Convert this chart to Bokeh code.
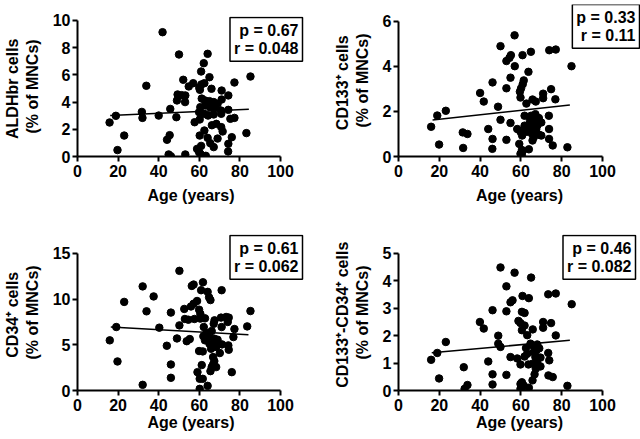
from bokeh.plotting import figure
from bokeh.layouts import column, row
from bokeh.models import Label, FixedTicker
from bokeh.embed import file_html
from bokeh.resources import INLINE

# ---------------- data ----------------
age_aldh = [41.9, 50, 64.1, 62.2, 60.9, 65, 85.2, 77.3, 33.9, 52.1, 54.8, 57, 60, 61, 62.5, 66, 71, 74.3,
            49.3, 51.3, 53.1, 49, 53, 61.2, 62.8, 65, 67.1, 69, 71, 60.5, 63, 65.3, 67.8, 70.7, 74.3,
            59.9, 62.2, 64.3, 67.1, 70.8, 31.7, 32, 40, 45.7, 48.7, 18.9, 15.8, 57.7, 60.2, 75.3, 77.3,
            66.2, 68.4, 70.8, 71.5, 62.5, 60.2, 64.1, 69, 76, 83.2, 23, 44.1, 45.4, 65.4, 60.9, 67.1,
            74.3, 74.2, 19.7, 58.9, 59.9, 44.9, 46, 53.1, 60.5, 63.2, 60.3]
val_aldh = [9.14, 7.5, 7.55, 6.86, 6.25, 5.83, 5.88, 5.44, 5.2, 5.64, 5.15, 5.39, 5.05, 5.3, 5.39, 4.98, 4.85, 4.49,
            4.56, 4.51, 4.49, 4.12, 4.0, 4.26, 4.12, 4.07, 4.0, 3.87, 4.19, 3.63, 3.75, 3.63, 3.58, 3.38, 3.43,
            3.26, 3.14, 3.01, 3.09, 3.14, 3.28, 2.84, 3.01, 3.5, 2.89, 2.99, 2.5, 2.52, 2.72, 2.77, 2.84,
            2.3, 2.4, 2.16, 1.84, 1.91, 1.54, 1.37, 1.32, 1.42, 1.72, 1.54, 1.23, 1.57, 0.98, 0.78, 0.69,
            0.93, 0.37, 0.47, 0.56, 0.32, 0.15, 0.02, 0.15, 0.2, 0.05, 4.9]
fit_aldh_x = [16.1, 84.4]
fit_aldh_y = [3.01, 3.48]

age_cd133 = [56.9, 50, 55.1, 60.8, 64.9, 73.9, 77.1, 52.9, 54.4, 57, 84.8, 63.7, 54.9, 61.4, 46.1, 60.9, 60.1,
             52.9, 59.5, 40, 70.9, 74.8, 70.9, 59.8, 65.7, 67.3, 76.9, 41.8, 62.7, 48.8, 23.2, 19, 61.8, 65,
             67.1, 68.8, 73.7, 50, 54.9, 61.8, 63.9, 66.3, 68, 70, 65, 67.1, 73.8, 58.2, 59.8, 44, 31.5, 33.8,
             16, 60.6, 68.8, 66.3, 70, 65.7, 73.8, 52.9, 46.1, 75.6, 59.2, 19.9, 31.7, 46, 63.9, 60.5, 82.8,
             59.8, 60.5, 60.8, 64.5, 66.5, 68.5, 63, 65.5, 67.5]
val_cd133 = [5.38, 4.9, 4.5, 4.5, 4.65, 4.72, 4.75, 4.24, 4.38, 4.01, 4.01, 3.76, 3.5, 3.38, 3.29, 3.21, 3.03,
             3.03, 2.88, 2.82, 2.79, 2.99, 2.59, 2.62, 2.53, 2.44, 2.54, 2.44, 2.35, 2.21, 2.03, 1.82, 1.81, 1.81,
             1.88, 1.71, 1.81, 1.63, 1.49, 1.37, 1.41, 1.44, 1.37, 1.51, 1.22, 1.18, 1.22, 1.22, 1.1, 1.22, 1.07, 1.0,
             1.32, 0.93, 0.97, 0.85, 0.93, 0.71, 0.78, 0.74, 0.78, 0.49, 0.56, 0.53, 0.38, 0.34, 0.32, 0.29, 0.41,
             0.12, 0.04, 0.24, 1.6, 1.65, 1.55, 1.1, 1.0, 1.2]
fit_cd133_x = [16.7, 84.0]
fit_cd133_y = [1.62, 2.29]

age_cd34 = [50.2, 32.1, 56.3, 57.2, 61.8, 60.9, 64.1, 71, 37.5, 64.8, 65.5, 23, 58.9, 57.2, 55.9, 59.9, 52.6,
            34, 46, 85.2, 60.5, 52.9, 54.6, 57.6, 60.5, 62.8, 67.5, 70.7, 73.2, 74.5, 74, 83.6, 40.3, 19.1,
            50.2, 62.2, 67.1, 71, 77.3, 66.1, 49, 53.8, 55.3, 15.9, 62, 64.5, 62.8, 67.4, 69, 76.8, 65, 67.4,
            71.2, 74.3, 44, 68.3, 74.5, 59.9, 61.7, 65.8, 70.1, 66.8, 67.4, 66.8, 66.1, 68.3, 46, 61.2, 19.7,
            65.5, 76, 59.1, 46, 60.2, 61.7, 32.1, 64.1, 60.2, 63.5]
val_cd34 = [13.1, 11.4, 11.45, 11.6, 11.85, 10.98, 10.8, 10.98, 10.3, 10.2, 9.9, 9.7, 9.8, 9.5, 9.2, 8.85, 8.93,
            8.67, 8.53, 8.7, 8.4, 7.83, 7.75, 7.83, 7.87, 7.9, 7.68, 7.98, 8.05, 7.98, 7.5, 7.02, 6.88, 6.95,
            7.13, 6.95, 7.3, 6.95, 6.73, 6.51, 5.7, 5.4, 5.63, 5.49, 5.93, 5.85, 5.49, 5.67, 5.56, 5.85, 5.12, 5.05,
            5.05, 4.94, 4.9, 4.76, 4.46, 4.32, 4.28, 4.57, 4.1, 3.66, 3.22, 2.85, 2.56, 2.56, 2.85, 2.78, 3.18,
            2.12, 2.01, 2.01, 1.39, 1.28, 1.28, 0.62, 0.51, 0.18, 6.3]
fit_cd34_x = [16.4, 84.2]
fit_cd34_y = [6.95, 6.11]

age_dbl = [50, 56.9, 65, 52.9, 60.8, 63.9, 55.9, 54.9, 73.4, 77.1, 84.9, 46.1, 52.9, 60.5, 61.8, 58.8, 59.8,
           61.8, 70.9, 70.9, 74.8, 39.9, 41.8, 65.8, 60.5, 63.1, 48.9, 77.1, 23.2, 48.9, 50, 19, 16, 64.7, 66.3,
           68, 69, 66.3, 63.1, 73.4, 54.9, 58.2, 61.8, 67.1, 69.6, 44, 73.9, 59.8, 63.7, 65.8, 68, 69.6, 67.3,
           32, 52.9, 46.1, 66.7, 73.5, 75.6, 19.9, 65.7, 60.5, 59.8, 46.1, 33.8, 32.4, 60.5, 61.4, 63.9, 82.8,
           59.8, 62.5, 67.5]
val_dbl = [4.49, 4.3, 4.12, 3.8, 3.45, 3.37, 3.29, 3.22, 3.51, 3.54, 3.15, 2.93, 2.89, 2.87, 2.83, 2.54, 2.46,
           2.37, 2.5, 2.29, 2.46, 2.5, 2.26, 2.23, 2.2, 2.02, 2.0, 2.01, 1.77, 1.71, 1.59, 1.37, 1.12, 1.71, 1.61,
           1.68, 1.54, 1.4, 1.34, 1.37, 1.22, 1.17, 1.24, 1.22, 1.2, 1.06, 1.1, 0.95, 0.95, 0.98, 1.0, 0.88, 0.79,
           0.85, 0.57, 0.59, 0.59, 0.55, 0.49, 0.44, 0.37, 0.3, 0.24, 0.22, 0.2, 0.06, 0.12, 0.18, 0.1, 0.17,
           0.06, 1.55, 1.45]
fit_dbl_x = [16.3, 84.0]
fit_dbl_y = [1.38, 1.83]

x_ticks = [0, 20, 40, 60, 80, 100]
FONT = "Liberation Sans"


def panel(ages, vals, fx, fy, ymax, yticks, ylabel, stats,
          width, height, left, right, top, bottom, xmax_ext, ymax_ext, xstd, box_x, box_y,
          margin=None):
    p = figure(width=width, height=height, x_range=(0, xmax_ext), y_range=(0, ymax_ext),
               output_backend="svg", toolbar_location=None, title=None,
               min_border_left=left, min_border_right=right,
               min_border_top=top, min_border_bottom=bottom)
    if margin is not None:
        p.margin = margin
    p.outline_line_color = None
    p.grid.visible = False
    p.xaxis.ticker = FixedTicker(ticks=x_ticks)
    p.yaxis.ticker = FixedTicker(ticks=yticks)
    p.xaxis.bounds = (0, 100)
    p.yaxis.bounds = (0, ymax)
    for ax in (p.xaxis[0], p.yaxis[0]):
        ax.axis_line_width = 2
        ax.axis_line_color = "black"
        ax.major_tick_line_width = 2
        ax.major_tick_line_color = "black"
        ax.major_tick_out = 5
        ax.major_tick_in = 0
        ax.minor_tick_line_color = None
        ax.major_label_text_font = FONT
        ax.major_label_text_font_size = "16px"
        ax.major_label_text_font_style = "bold"
        ax.major_label_text_color = "black"
        ax.axis_label_text_font = FONT
        ax.axis_label_text_font_size = "16px"
        ax.axis_label_text_font_style = "bold"
        ax.axis_label_text_color = "black"
        ax.axis_label_text_line_height = 1.15
    p.xaxis.axis_label = "Age (years)"
    p.xaxis.major_label_standoff = 3
    p.xaxis.axis_label_standoff = xstd
    p.yaxis.axis_label = ylabel
    p.yaxis.major_label_standoff = 2
    p.yaxis.axis_label_standoff = 9
    p.scatter(ages, vals, size=7.5, color="black", marker="circle")
    p.line(fx, fy, line_width=1.5, color="black")
    lab = Label(x=box_x, y=box_y, x_units="screen", y_units="screen", text=stats,
                text_align="right", text_baseline="top",
                text_font=FONT, text_font_size="16px", text_font_style="bold",
                text_color="black", border_line_color="black", border_line_width=1.5,
                background_fill_color="white", padding=4, text_line_height=1.1)
    p.add_layout(lab)
    return p


p1 = panel(age_aldh, val_aldh, fit_aldh_x, fit_aldh_y, 10, [0, 2, 4, 6, 8, 10],
           "ALDHbr  cells\n(% of MNCs)", "p = 0.67\nr = 0.048",
           320, 219, 77, 16, 16, 63, 111.82, 10.294, 7, 225, 139)
p2 = panel(age_cd133, val_cd133, fit_cd133_x, fit_cd133_y, 6, [0, 2, 4, 6],
           "CD133\u207a  cells\n(% of MNCs)", "p = 0.33\nr = 0.11",
           320, 231, 78, 0, 15, 63, 118.63, 6.75, 7, 241, 152, margin=(-12, 0, 0, 0))
p3 = panel(age_cd34, val_cd34, fit_cd34_x, fit_cd34_y, 15, [0, 5, 10, 15],
           "CD34\u207a  cells\n(% of MNCs)", "p = 0.61\nr = 0.062",
           320, 220, 77, 16, 15, 49, 111.82, 17.08, 0, 225, 155)
p4 = panel(age_dbl, val_dbl, fit_dbl_x, fit_dbl_y, 5, [0, 1, 2, 3, 4, 5],
           "CD133\u207a-CD34\u207a  cells\n(% of MNCs)", "p = 0.46\nr = 0.082",
           320, 220, 78, 0, 15, 49, 118.63, 5.693, 0, 237, 155)

layout = column(row(p1, p2), row(p3, p4))
open("out.html", "w").write(file_html(layout, INLINE))
